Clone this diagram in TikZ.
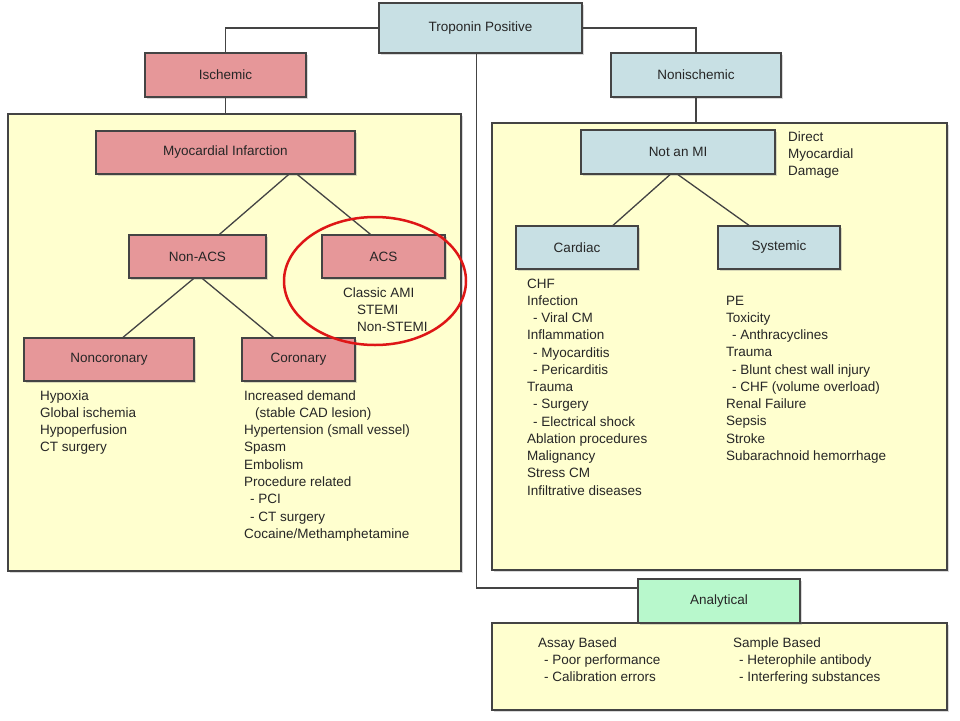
\documentclass[tikz,border=0pt]{standalone}
\usepackage{fontspec}
\setmainfont{Liberation Sans}
\usetikzlibrary{shadows}

\definecolor{ischred}{RGB}{230,151,153}
\definecolor{noniblue}{RGB}{200,224,228}
\definecolor{panelyellow}{RGB}{255,255,207}
\definecolor{analgreen}{RGB}{184,248,204}
\definecolor{edgegray}{RGB}{68,68,68}
\definecolor{ringred}{RGB}{222,22,22}

\newcommand{\lsub}{\hspace*{6pt}- }

\tikzset{
  box/.style={draw=edgegray, line width=1.3pt, inner sep=0pt, minimum height=43pt, text=black!85,
    drop shadow={shadow xshift=1.5pt, shadow yshift=-1.5pt, opacity=0.3}},
  ischbox/.style={box, fill=ischred},
  nonibox/.style={box, fill=noniblue},
  analbox/.style={box, fill=analgreen},
  panel/.style={draw=edgegray, line width=1.3pt, fill=panelyellow, inner sep=0pt,
    drop shadow={shadow xshift=2pt, shadow yshift=-2pt, opacity=0.3}},
  link/.style={draw=edgegray, line width=1.3pt},
  lstline/.style={anchor=base west, inner sep=0pt, text=black!85},
  acsring/.style={draw=ringred, line width=2.5pt}
}

\begin{document}
\begin{tikzpicture}[x=1pt,y=-1pt,font=\fontsize{13.5}{17.25}\selectfont]
  \useasboundingbox (0,0) rectangle (960,720);

  % yellow panels
  \node[panel, minimum width=453pt, minimum height=457pt] (ischpanel) at (234.5,342.5) {};
  \node[panel, minimum width=455pt, minimum height=447pt] (nonipanel) at (719.5,346.5) {};
  \node[panel, minimum width=455pt, minimum height=87pt] (analpanel) at (719.5,666.5) {};

  % top level
  \node[nonibox, minimum width=203pt, minimum height=50pt] (trop) at (480.5,28) {Troponin Positive};
  \node[ischbox, minimum width=161pt, minimum height=44pt] (isch) at (225.5,75) {Ischemic};
  \node[nonibox, minimum width=170pt, minimum height=44pt] (noni) at (696,75) {Nonischemic};
  \node[analbox, minimum width=162pt, minimum height=44pt] (anal) at (719,601) {Analytical};

  % ischemic tree
  \node[ischbox, minimum width=259pt] (mi) at (225.5,152.5) {Myocardial Infarction};
  \node[ischbox, minimum width=137pt] (nonacs) at (197.5,256.5) {Non-ACS};
  \node[ischbox, minimum width=123pt] (acs) at (383.5,256.5) {ACS};
  \node[ischbox, minimum width=170pt] (noncor) at (109,359.5) {Noncoronary};
  \node[ischbox, minimum width=113pt] (cor) at (298.5,359.5) {Coronary};

  % nonischemic tree
  \node[nonibox, minimum width=194pt, minimum height=44pt] (notmi) at (678,152) {Not an MI};
  \node[nonibox, minimum width=122pt] (card) at (577,247.5) {Cardiac};
  \node[nonibox, minimum width=122pt] (sys) at (779,247.5) {Systemic};

  % connectors
  \draw[link] (trop.west) -| (isch.north);
  \draw[link] (trop.east) -| (noni.north);
  \draw[link] (isch.south) -- (isch.south |- ischpanel.north);
  \draw[link] (noni.south) -- (noni.south |- nonipanel.north);
  \draw[link] ([xshift=-4pt]trop.south) |- ([yshift=13pt]anal.west);
  \draw[link] ([xshift=63pt]mi.south) -- ([xshift=22pt]nonacs.north);
  \draw[link] ([xshift=72pt]mi.south) -- ([xshift=-13pt]acs.north);
  \draw[link] ([xshift=-4pt]nonacs.south) -- ([xshift=14pt]noncor.north);
  \draw[link] ([xshift=5pt]nonacs.south) -- ([xshift=-25pt]cor.north);
  \draw[link] ([xshift=-8pt]notmi.south) -- ([xshift=36pt]card.north);
  \draw[link] (notmi.south) -- ([xshift=-30pt]sys.north);

  % lists
  \foreach \t [count=\i from 0] in {Classic AMI, \hspace*{14pt}STEMI, \hspace*{14pt}Non-STEMI}
    \node[lstline] (acsl\i) at (343,297+17*\i) {\t};
  \foreach \t [count=\i from 0] in {Hypoxia, Global ischemia, Hypoperfusion, CT surgery}
    \node[lstline] (noncorl\i) at (40,400+17.25*\i) {\t};
  \foreach \t [count=\i from 0] in {Increased demand, \hspace*{11pt}(stable CAD lesion),
      Hypertension (small vessel), Spasm, Embolism, Procedure related, \lsub PCI,
      \lsub CT surgery, Cocaine/Methamphetamine}
    \node[lstline] (corl\i) at (244,400+17.3*\i) {\t};
  \foreach \t [count=\i from 0] in {Direct, Myocardial, Damage}
    \node[lstline] (dmgl\i) at (788,141+17*\i) {\t};
  \foreach \t [count=\i from 0] in {CHF, Infection, \lsub Viral CM, Inflammation,
      \lsub Myocarditis, \lsub Pericarditis, Trauma, \lsub Surgery, \lsub Electrical shock,
      Ablation procedures, Malignancy, Stress CM, Infiltrative diseases}
    \node[lstline] (cardl\i) at (527,288+17.25*\i) {\t};
  \foreach \t [count=\i from 0] in {PE, Toxicity, \lsub Anthracyclines, Trauma,
      \lsub Blunt chest wall injury, \lsub CHF (volume overload), Renal Failure, Sepsis,
      Stroke, Subarachnoid hemorrhage}
    \node[lstline] (sysl\i) at (726,305+17.25*\i) {\t};
  \foreach \t [count=\i from 0] in {Assay Based, \lsub Poor performance, \lsub Calibration errors}
    \node[lstline] (assayl\i) at (538,647+17*\i) {\t};
  \foreach \t [count=\i from 0] in {Sample Based, \lsub Heterophile antibody, \lsub Interfering substances}
    \node[lstline] (samplel\i) at (733,647+17*\i) {\t};

  % red ring round ACS
  \draw[acsring] (375,281) ellipse [x radius=91, y radius=64];
\end{tikzpicture}
\end{document}
